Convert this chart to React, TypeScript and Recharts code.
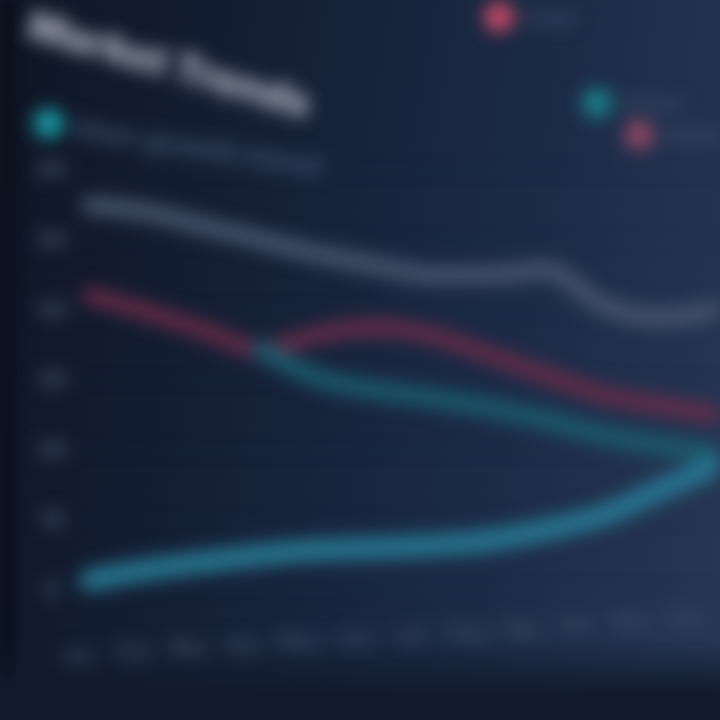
import React from 'react';
import { LineChart, Line, XAxis, YAxis, CartesianGrid, Legend } from 'recharts';

const months = ['Jan', 'Feb', 'Mar', 'Apr', 'May', 'Jun', 'Jul', 'Aug', 'Sep', 'Oct', 'Nov', 'Dec'];
const indexSeries = [55, 54, 52, 50, 48, 46.4, 45, 45, 45.7, 40.7, 38.9, 40];
const costSeries = [42.1, 39.7, 37.1, 34.3, 36.5, 37.5, 36.4, 33.6, 30.7, 27.9, 26.4, 25];
const churnSeries = [null, null, null, 34.3, 30.3, 28.6, 27.4, 26, 24.3, 22.1, 20.7, 19.3];
const growthSeries = [1.4, 2.9, 4, 5, 5.7, 6, 6.4, 7.1, 8.6, 10.7, 14.3, 17.9];
const yTicks = [0, 10, 20, 30, 40, 50, 60];

const data = months.map((m, i) => ({
  month: m,
  index: indexSeries[i],
  cost: costSeries[i],
  churn: churnSeries[i],
  growth: growthSeries[i],
}));

const YTick = (props: any) => {
  const { y, payload } = props;
  return (
    <text x={52} y={y} dy={7} textAnchor="middle" fill="#4f5d75" fontSize={22} fontFamily="Inter, sans-serif" fontWeight={700}>
      {payload.value}
    </text>
  );
};

const XTick = (props: any) => {
  const { x, y, payload, index } = props;
  const dy = 64 - index * 3.4;
  return (
    <text x={x - 12 - index * 1.6} y={y + dy} textAnchor="middle" fill="#435069" fontSize={20} fontFamily="Inter, sans-serif" fontWeight={700}>
      {payload.value}
    </text>
  );
};

const legendPos: Record<string, { left: number; top: number; rot: number; color: string; text: string; size: number }> = {
  growth: { left: 34, top: 104, rot: 9, color: '#1a9aa4', text: 'User growth trend', size: 28 },
  cost: { left: 484, top: 2, rot: 0, color: '#c84a66', text: 'Cost', size: 22 },
  churn: { left: 582, top: 88, rot: 0, color: '#1a7f8c', text: 'Churn', size: 20 },
  index: { left: 624, top: 120, rot: 0, color: '#8e4866', text: 'Index', size: 20 },
};

const LegendContent = (props: any) => {
  const { payload } = props;
  return (
    <div style={{ position: 'relative', width: 720, height: 0 }}>
      {(payload || []).map((p: any) => {
        const pos = legendPos[p.dataKey];
        if (!pos) return null;
        return (
          <div
            key={p.dataKey}
            style={{
              position: 'absolute',
              left: pos.left,
              top: pos.top,
              display: 'flex',
              alignItems: 'center',
              gap: 10,
              transform: `rotate(${pos.rot}deg)`,
              transformOrigin: 'left center',
              whiteSpace: 'nowrap',
            }}
          >
            <span style={{ width: 30, height: 30, borderRadius: 15, background: pos.color, display: 'inline-block' }} />
            <span style={{ color: '#3f4f6c', fontSize: pos.size, fontWeight: 800, fontFamily: 'Inter, sans-serif' }}>{pos.text}</span>
          </div>
        );
      })}
    </div>
  );
};

export default function App() {
  return (
    <div
      style={{
        position: 'fixed',
        left: 0,
        top: 0,
        width: 720,
        height: 720,
        overflow: 'hidden',
        background: 'linear-gradient(100deg, #0e1524 0%, #152036 35%, #1b2a45 65%, #273755 100%)',
      }}
    >
      <div style={{ position: 'absolute', left: 0, top: 0, width: 16, height: 720, background: '#0b111d', filter: 'blur(4px)' }} />
      <div style={{ position: 'absolute', left: 0, top: 640, width: 720, height: 80, background: 'linear-gradient(180deg, rgba(14,22,38,0) 0%, #111a2c 70%)' }} />
      <div style={{ filter: 'blur(9px)', position: 'absolute', left: 0, top: 0, width: 720, height: 720 }}>
        <div
          style={{
            position: 'absolute',
            left: 36,
            top: 0,
            color: '#a7adb8',
            fontSize: 40,
            fontWeight: 900,
            fontFamily: 'Inter, sans-serif',
            transform: 'rotate(16deg)',
            transformOrigin: 'left top',
            whiteSpace: 'nowrap',
          }}
        >
          Market Trends
        </div>
        <LineChart width={720} height={720} data={data} margin={{ top: 170, right: 0, bottom: 70, left: 0 }}>
          <CartesianGrid stroke="#22304a" strokeOpacity={0.3} vertical={false} />
          <XAxis
            dataKey="month"
            height={60}
            axisLine={false}
            tickLine={false}
            padding={{ left: 10, right: 3 }}
            tick={<XTick />}
            interval={0}
          />
          <YAxis
            width={80}
            domain={[0, 60]}
            ticks={yTicks}
            axisLine={false}
            tickLine={false}
            tick={<YTick />}
          />
          <Legend verticalAlign="top" align="left" wrapperStyle={{ position: 'absolute', top: 0, left: 0, width: 720 }} content={<LegendContent />} />
          <Line type="monotone" dataKey="index" stroke="#47546c" strokeWidth={18} dot={false} strokeLinecap="round" isAnimationActive={false} />
          <Line type="monotone" dataKey="cost" stroke="#6a2c48" strokeWidth={16} dot={false} strokeLinecap="round" isAnimationActive={false} />
          <Line type="monotone" dataKey="churn" stroke="#1b5c6e" strokeWidth={18} dot={false} strokeLinecap="round" connectNulls isAnimationActive={false} />
          <Line type="monotone" dataKey="growth" stroke="#27758f" strokeWidth={22} dot={false} strokeLinecap="round" isAnimationActive={false} />
        </LineChart>
      </div>
    </div>
  );
}
